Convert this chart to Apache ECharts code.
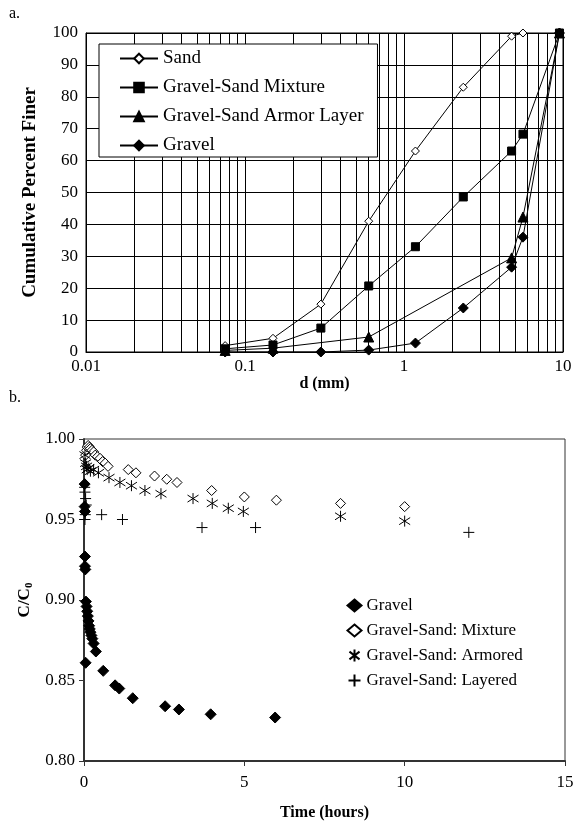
<!DOCTYPE html>
<html>
<head>
<meta charset="utf-8">
<title>Grain size distribution and C/C0 over time</title>
<script src="https://cdn.jsdelivr.net/npm/echarts@6/dist/echarts.min.js"></script>
<style>
  html, body { margin: 0; padding: 0; background: #fff; }
  #chart { width: 577px; height: 829px; }
</style>
</head>
<body>
<div id="chart"></div>
<script>
// ---- Panel a: sieve analysis (cumulative percent finer vs. grain size) ----
const sieveSizes   = [0.075, 0.15, 0.3, 0.6, 1.18, 2.36, 4.75, 5.6, 9.5];
const sandFiner    = [2, 4.3, 15, 41, 63, 83, 99, 100, null];
const mixtureFiner = [1, 2.2, 7.5, 20.7, 33, 48.6, 63, 68.3, 100];
const armorFiner   = [0.5, 1.2, null, 4.7, null, null, 29.5, 42.3, 100];
const gravelFiner  = [0, 0, 0, 0.6, 2.8, 13.8, 26.6, 36, 100];
const percentTicks = [0, 10, 20, 30, 40, 50, 60, 70, 80, 90, 100];

// ---- Panel b: normalized concentration vs. time ----
const gravelTime  = [0.02, 0.02, 0.03, 0.03, 0.03, 0.04, 0.05, 0.06, 0.08, 0.10, 0.12, 0.14, 0.16, 0.18, 0.20, 0.23, 0.26, 0.30, 0.37, 0.60, 0.97, 1.10, 1.52, 2.53, 2.96, 3.95, 5.96];
const gravelRatio = [0.972, 0.958, 0.955, 0.927, 0.921, 0.919, 0.861, 0.899, 0.896, 0.893, 0.890, 0.887, 0.884, 0.882, 0.880, 0.878, 0.876, 0.873, 0.868, 0.856, 0.847, 0.845, 0.839, 0.834, 0.832, 0.829, 0.827];

const mixtureTime  = [0.05, 0.08, 0.10, 0.13, 0.17, 0.20, 0.25, 0.30, 0.35, 0.42, 0.50, 0.58, 0.66, 0.75, 1.38, 1.62, 2.20, 2.58, 2.90, 3.98, 5.00, 6.00, 8.00, 10.00];
const mixtureRatio = [0.990, 0.993, 0.995, 0.996, 0.995, 0.994, 0.993, 0.992, 0.990, 0.989, 0.988, 0.986, 0.985, 0.983, 0.981, 0.979, 0.977, 0.975, 0.973, 0.968, 0.964, 0.962, 0.960, 0.958];

const armoredTime  = [0.03, 0.05, 0.08, 0.10, 0.15, 0.20, 0.30, 0.45, 0.78, 1.12, 1.48, 1.90, 2.40, 3.40, 4.00, 4.50, 4.97, 8.00, 10.00];
const armoredRatio = [0.990, 0.985, 0.983, 0.981, 0.982, 0.980, 0.981, 0.979, 0.976, 0.973, 0.971, 0.968, 0.966, 0.963, 0.960, 0.957, 0.955, 0.952, 0.949];

const layeredTime  = [0.02, 0.03, 0.05, 0.07, 0.04, 0.03, 0.55, 1.20, 3.68, 5.35, 12.00];
const layeredRatio = [0.970, 0.967, 0.963, 0.959, 0.953, 0.950, 0.953, 0.950, 0.945, 0.945, 0.942];

const timeTicks  = [0, 5, 10, 15];
const ratioTicks = [0.80, 0.85, 0.90, 0.95, 1.00];

const FONT = '"Liberation Serif", "Times New Roman", serif';
const INK = '#000';

function pairs(xs, ys) {
  const out = [];
  xs.forEach((x, i) => { if (ys[i] !== null && ys[i] !== undefined) out.push([x, ys[i]]); });
  return out;
}

// minor log gridlines at 2..9 of each decade
const minorLines = [];
[0.01, 0.1, 1].forEach(dec => {
  for (let k = 2; k <= 9; k++) minorLines.push({ xAxis: +(dec * k).toPrecision(3) });
});

const ASTERISK = 'path://M5,0L5,10M0.8,1.8L9.2,8.2M0.8,8.2L9.2,1.8';
const PLUS = 'path://M5,0L5,10M0,5L10,5';

function lineSeries(name, ys, symbol, size, fill) {
  return {
    name, type: 'line', xAxisIndex: 0, yAxisIndex: 0,
    data: pairs(sieveSizes, ys),
    connectNulls: true,
    symbol, symbolSize: size, showSymbol: true,
    lineStyle: { color: INK, width: 1 },
    itemStyle: { color: fill, borderColor: INK, borderWidth: 1 },
    z: 5
  };
}

function scatterSeries(name, xs, ys, symbol, size, fill) {
  return {
    name, type: 'scatter', xAxisIndex: 1, yAxisIndex: 1,
    data: pairs(xs, ys),
    symbol, symbolSize: size,
    itemStyle: { color: fill, borderColor: INK, borderWidth: 1, opacity: 1 },
    z: 5
  };
}

const sandSeries = lineSeries('Sand', sandFiner, 'diamond', 8, '#fff');
sandSeries.markLine = {
  silent: true, symbol: ['none', 'none'], label: { show: false },
  lineStyle: { color: INK, width: 1, type: 'solid' },
  emphasis: { disabled: true },
  data: minorLines, z: 1
};

const option = {
  animation: false,
  backgroundColor: '#fff',
  textStyle: { fontFamily: FONT, color: INK },
  title: [
    { text: 'a.', left: 4, top: 1, textStyle: { fontFamily: FONT, fontSize: 16, fontWeight: 'normal', color: INK } },
    { text: 'b.', left: 4, top: 385, textStyle: { fontFamily: FONT, fontSize: 16, fontWeight: 'normal', color: INK } }
  ],
  grid: [
    { left: 86, right: 14, top: 33, height: 319, show: true, borderColor: INK, borderWidth: 1, backgroundColor: 'transparent' },
    { left: 84, right: 12, top: 439, height: 322, show: true, borderColor: '#333', borderWidth: 1, backgroundColor: 'transparent' }
  ],
  xAxis: [
    {
      gridIndex: 0, type: 'log', logBase: 10, min: 0.01, max: 10,
      name: 'd (mm)', nameLocation: 'middle', nameGap: 17,
      nameTextStyle: { fontFamily: FONT, fontSize: 16, fontWeight: 'bold', color: INK },
      axisLine: { show: true, lineStyle: { color: INK, width: 1 } },
      axisTick: { show: false },
      axisLabel: { fontFamily: FONT, fontSize: 17, color: INK, margin: 6 },
      splitLine: { show: true, lineStyle: { color: INK, width: 1 } },
      minorTick: { show: false }, minorSplitLine: { show: false }
    },
    {
      gridIndex: 1, type: 'value', min: timeTicks[0], max: timeTicks[timeTicks.length - 1], interval: 5,
      name: 'Time (hours)', nameLocation: 'middle', nameGap: 44,
      nameTextStyle: { fontFamily: FONT, fontSize: 16, fontWeight: 'bold', color: INK },
      axisLine: { show: true, onZero: false, lineStyle: { color: '#333', width: 2 } },
      axisTick: { show: true, inside: false, length: 5, lineStyle: { color: '#333', width: 1 } },
      axisLabel: { fontFamily: FONT, fontSize: 17, color: INK, margin: 13 },
      splitLine: { show: false }
    }
  ],
  yAxis: [
    {
      gridIndex: 0, type: 'value', min: percentTicks[0], max: percentTicks[percentTicks.length - 1], interval: 10,
      name: 'Cumulative Percent Finer', nameLocation: 'middle', nameGap: 46,
      nameTextStyle: { fontFamily: FONT, fontSize: 19, fontWeight: 'bold', color: INK },
      axisLine: { show: true, lineStyle: { color: INK, width: 1 } },
      axisTick: { show: false },
      axisLabel: { fontFamily: FONT, fontSize: 17, color: INK, margin: 8 },
      splitLine: { show: true, lineStyle: { color: INK, width: 1 } }
    },
    {
      gridIndex: 1, type: 'value', min: ratioTicks[0], max: ratioTicks[ratioTicks.length - 1], interval: 0.05,
      name: '{c|C/C}{s|0}', nameLocation: 'middle', nameGap: 46,
      nameTextStyle: {
        fontFamily: FONT, fontSize: 17, fontWeight: 'bold', color: INK,
        rich: {
          c: { fontFamily: FONT, fontSize: 17, fontWeight: 'bold', color: INK, lineHeight: 20 },
          s: { fontFamily: FONT, fontSize: 11, fontWeight: 'bold', color: INK, lineHeight: 20, padding: [9, 0, 0, 0] }
        }
      },
      axisLine: { show: true, onZero: false, lineStyle: { color: '#333', width: 2 } },
      axisTick: { show: true, inside: false, length: 5, lineStyle: { color: '#333', width: 1 } },
      axisLabel: { fontFamily: FONT, fontSize: 17, color: INK, margin: 9, formatter: v => v.toFixed(2) },
      splitLine: { show: false }
    }
  ],
  legend: [
    {
      orient: 'vertical', left: 99, top: 44,
      data: ['Sand', 'Gravel-Sand Mixture', 'Gravel-Sand Armor Layer', 'Gravel'],
      backgroundColor: '#fff', borderColor: INK, borderWidth: 1,
      padding: [5, 14, 2, 20],
      itemWidth: 38, itemHeight: 12, itemGap: 10,
      selectedMode: false,
      textStyle: { fontFamily: FONT, fontSize: 19, color: INK },
      z: 10
    },
    {
      orient: 'vertical', left: 346, top: 597,
      data: ['Gravel ', 'Gravel-Sand: Mixture', 'Gravel-Sand: Armored', 'Gravel-Sand: Layered'],
      formatter: n => n.trim(),
      padding: 0,
      itemWidth: 14, itemHeight: 12, itemGap: 8,
      selectedMode: false,
      textStyle: { fontFamily: FONT, fontSize: 17, color: INK },
      z: 10
    }
  ],
  series: [
    sandSeries,
    lineSeries('Gravel-Sand Mixture', mixtureFiner, 'rect', 8, INK),
    lineSeries('Gravel-Sand Armor Layer', armorFiner, 'triangle', 10, INK),
    lineSeries('Gravel', gravelFiner, 'diamond', 10, INK),
    scatterSeries('Gravel ', gravelTime, gravelRatio, 'diamond', 11, INK),
    scatterSeries('Gravel-Sand: Mixture', mixtureTime, mixtureRatio, 'diamond', 10, '#fff'),
    scatterSeries('Gravel-Sand: Armored', armoredTime, armoredRatio, ASTERISK, 11, 'none'),
    scatterSeries('Gravel-Sand: Layered', layeredTime, layeredRatio, PLUS, 11, 'none')
  ]
};

const chart = echarts.init(document.getElementById('chart'), null, { renderer: 'canvas' });
chart.setOption(option);
</script>
</body>
</html>
